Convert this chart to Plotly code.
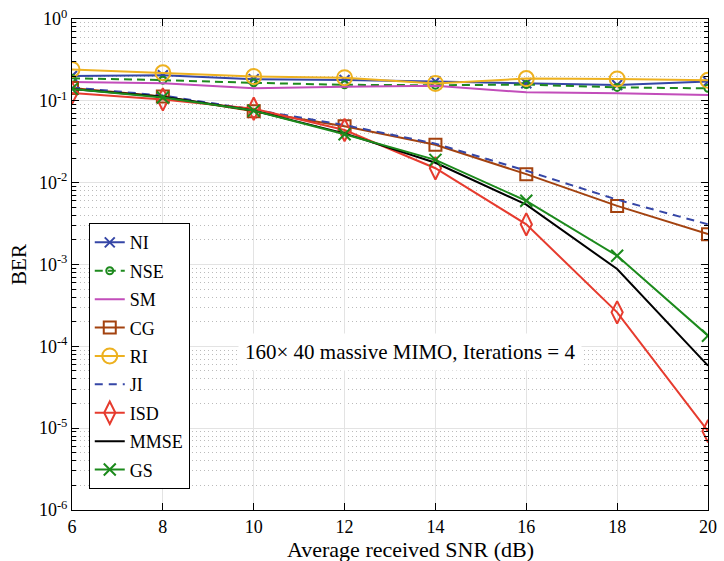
import plotly.graph_objects as go

snr = [6, 8, 10, 12, 14, 16, 18, 20]

ber_ni   = [0.201, 0.205, 0.184, 0.180, 0.172, 0.164, 0.156, 0.172]
ber_nse  = [0.189, 0.179, 0.166, 0.157, 0.155, 0.158, 0.146, 0.142]
ber_sm   = [0.170, 0.164, 0.142, 0.149, 0.153, 0.127, 0.124, 0.118]
ber_cg   = [0.143, 0.113, 0.0744, 0.0490, 0.0290, 0.0127, 0.0052, 0.00235]
ber_ri   = [0.242, 0.220, 0.198, 0.192, 0.163, 0.187, 0.185, 0.178]
ber_ji   = [0.146, 0.116, 0.078, 0.0505, 0.0300, 0.0140, 0.0062, 0.0031]
ber_isd  = [0.125, 0.104, 0.080, 0.044, 0.0150, 0.0031, 0.00026, 9.2e-6]
ber_mmse = [0.140, 0.112, 0.076, 0.040, 0.0175, 0.0054, 0.00088, 5.8e-5]
ber_gs   = [0.140, 0.110, 0.076, 0.039, 0.0190, 0.0060, 0.00128, 1.35e-4]

names = ["NI", "NSE", "SM", "CG", "RI", "JI", "ISD", "MMSE", "GS"]

y_tickvals = [1e-6, 1e-5, 1e-4, 1e-3, 1e-2, 1e-1, 1e0]
y_ticktext = ["10<sup>-6</sup>", "10<sup>-5</sup>", "10<sup>-4</sup>", "10<sup>-3</sup>",
              "10<sup>-2</sup>", "10<sup>-1</sup>", "10<sup>0</sup>"]
y_minor = [m * 10.0 ** e for e in range(-6, 0) for m in range(2, 10)]
x_tickvals = [6, 8, 10, 12, 14, 16, 18, 20]

BLUE = "#3546A6"
GREEN_D = "#1E8A1E"
MAG = "#C24DBA"
BROWN = "#A3420F"
YEL = "#EDB120"
RED = "#E63B2E"
GREEN = "#1C8A1C"

fig = go.Figure()

def add(y, name, color, dash="solid", symbol=None, msize=10, width=2):
    mode = "lines+markers" if symbol else "lines"
    kw = dict(x=snr, y=y, name=name, mode=mode, legendgroup=name,
              line=dict(color=color, width=width, dash=dash))
    if symbol:
        kw["marker"] = dict(symbol=symbol, size=msize, color=color,
                            line=dict(color=color, width=2))
    fig.add_trace(go.Scatter(**kw))

add(ber_ni, "NI", BLUE, symbol="x-thin-open", msize=10)
add(ber_nse, "NSE", GREEN_D, dash="8px,5px", symbol="circle-open", msize=7)
add(ber_sm, "SM", MAG)
add(ber_cg, "CG", BROWN, symbol="square-open", msize=12)
add(ber_ri, "RI", YEL, symbol="circle-open", msize=15)
add(ber_ji, "JI", BLUE, dash="8px,6px")
add(ber_isd, "ISD", RED, symbol="diamond-tall-open", msize=16)
add(ber_mmse, "MMSE", "black")
add(ber_gs, "GS", GREEN, symbol="x-thin-open", msize=12)

font_family = "Liberation Serif"
L, R, T, B = 72, 717, 17, 510
W, H = R - L, B - T

fig.update_layout(
    width=724, height=561,
    margin=dict(l=L, r=724 - R, t=T, b=561 - B),
    paper_bgcolor="white", plot_bgcolor="white",
    font=dict(family=font_family, size=18, color="black"),
    showlegend=True,
    legend=dict(x=(89 - L) / W, y=(B - 222) / H, xanchor="left", yanchor="top",
                bgcolor="white", bordercolor="black", borderwidth=1,
                font=dict(family=font_family, size=18, color="black"),
                tracegroupgap=2, itemwidth=30),
    xaxis=dict(
        range=[6, 20], tickmode="array", tickvals=x_tickvals,
        ticks="inside", ticklen=7, tickcolor="black", tickwidth=1,
        showline=True, linecolor="black", linewidth=1, mirror="ticks",
        showgrid=True, gridcolor="#E3E3E3", gridwidth=1, zeroline=False,
        tickfont=dict(size=18), ticklabeloverflow="allow",
    ),
    yaxis=dict(
        type="log", range=[-6, 0], tickmode="array", tickvals=y_tickvals, ticktext=y_ticktext,
        ticks="inside", ticklen=7, tickcolor="black", tickwidth=1,
        showline=True, linecolor="black", linewidth=1, mirror="ticks",
        showgrid=True, gridcolor="#E3E3E3", gridwidth=1, zeroline=False,
        tickfont=dict(size=18), ticklabeloverflow="allow",
        minor=dict(tickmode="array", tickvals=y_minor, ticks="inside", ticklen=4,
                   tickcolor="black", showgrid=True, gridcolor="#BBBBBB",
                   griddash="1px,3px", gridwidth=1),
        title=dict(text="BER", font=dict(size=21), standoff=6),
    ),
    annotations=[
        dict(
            text="160× 40 massive MIMO, Iterations = 4",
            xref="paper", yref="paper",
            x=(415 - L) / W, y=(B - 351) / H,
            xanchor="center", yanchor="middle", showarrow=False,
            font=dict(family=font_family, size=21, color="black"),
            bgcolor="white", borderpad=6,
        ),
        dict(
            text="Average received SNR (dB)",
            xref="paper", yref="paper",
            x=(415 - L) / W, y=(B - 550) / H,
            xanchor="center", yanchor="middle", showarrow=False,
            font=dict(family=font_family, size=22, color="black"),
        ),
    ],
)

fig.write_html("out.html")
